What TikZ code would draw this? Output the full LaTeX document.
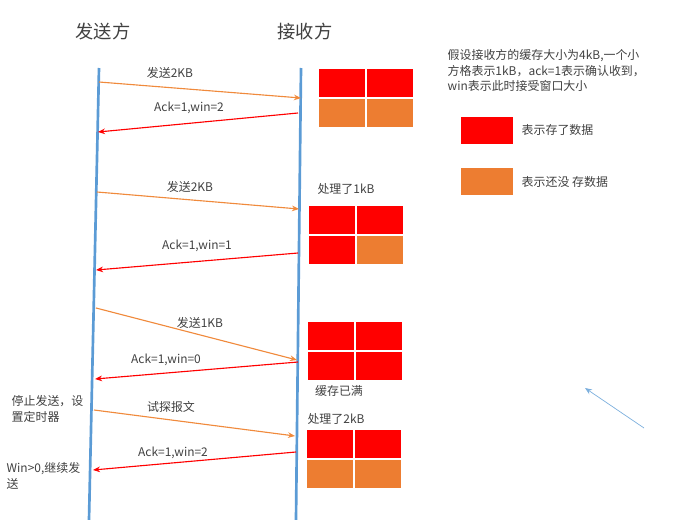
\documentclass[tikz,border=0pt]{standalone}
\usepackage{fontspec}
\setmainfont{Noto Sans CJK SC}
\usetikzlibrary{arrows.meta}
\definecolor{lifeblue}{HTML}{5B9BD5}
\definecolor{cellred}{HTML}{FF0000}
\definecolor{cellorange}{HTML}{ED7D31}
\definecolor{sendorange}{HTML}{F08A3C}
\definecolor{txtgray}{HTML}{404040}
\begin{document}
\begin{tikzpicture}[x=0.025cm,y=-0.025cm,
	life/.style={draw=lifeblue,line width=1.9pt},
	sendmsg/.style={draw=sendorange,line width=0.8pt,-{Stealth[length=5pt,width=4pt]}},
	ackmsg/.style={draw=cellred,line width=0.8pt,-{Stealth[length=5pt,width=4pt]}},
	lbl/.style={text=txtgray,font=\fontsize{8.5}{11}\selectfont,inner sep=1pt},
	title/.style={text=txtgray,font=\fontsize{13}{15}\selectfont},
	cell/.style={draw=white,line width=0.8pt}]
	\useasboundingbox (0,0) rectangle (687,520);
	% titles
	\node[title] (sender) at (103,32) {发送方};
	\node[title] (receiver) at (305,32) {接收方};
	% lifelines
	\coordinate (stop) at (99,68);
	\coordinate (sbot) at (89,520);
	\coordinate (rtop) at (301,68);
	\coordinate (rbot) at (296,520);
	\draw[life] (stop) -- (sbot);
	\draw[life] (rtop) -- (rbot);
	% end points on the lifelines
	\coordinate (s1) at (99,82);   \coordinate (r1) at (301,98);
	\coordinate (r2) at (298,113); \coordinate (s2) at (98,132);
	\coordinate (s3) at (97,192);  \coordinate (r3) at (299,209);
	\coordinate (r4) at (298,253); \coordinate (s4) at (96,270);
	\coordinate (s5) at (96,308);  \coordinate (r5) at (297,360);
	\coordinate (r6) at (298,362); \coordinate (s6) at (95,379);
	\coordinate (s7) at (94,410);  \coordinate (r7) at (295,436);
	\coordinate (r8) at (296,452); \coordinate (s8) at (93,470);
	% messages
	\draw[sendmsg] (s1) -- (r1);
	\draw[ackmsg] (r2) -- (s2);
	\draw[sendmsg] (s3) -- (r3);
	\draw[ackmsg] (r4) -- (s4);
	\draw[sendmsg] (s5) -- (r5);
	\draw[ackmsg] (r6) -- (s6);
	\draw[sendmsg] (s7) -- (r7);
	\draw[ackmsg] (r8) -- (s8);
	\node[lbl] (m1) at (170,73) {发送2KB};
	\node[lbl] (m2) at (189,108) {Ack=1,win=2};
	\node[lbl] (m3) at (190,187) {发送2KB};
	\node[lbl] (m4) at (197,246) {Ack=1,win=1};
	\node[lbl] (m5) at (200,323) {发送1KB};
	\node[lbl] (m6) at (166,360) {Ack=1,win=0};
	\node[lbl] (m7) at (171,407) {试探报文};
	\node[lbl] (m8) at (173,453) {Ack=1,win=2};
	% receive buffers
	\foreach \x/\y/\ca/\cb/\cc/\cd in {318/68/cellred/cellred/cellorange/cellorange,
		308/205/cellred/cellred/cellred/cellorange,
		307/321/cellred/cellred/cellred/cellred,
		306/429/cellred/cellred/cellorange/cellorange}{
		\filldraw[cell,fill=\ca] (\x,\y) rectangle +(48,30);
		\filldraw[cell,fill=\cb] (\x+48,\y) rectangle +(48,30);
		\filldraw[cell,fill=\cc] (\x,\y+30) rectangle +(48,30);
		\filldraw[cell,fill=\cd] (\x+48,\y+30) rectangle +(48,30);
	}
	\node[lbl] (done1) at (346,189) {处理了1kB};
	\node[lbl] (full) at (339,391) {缓存已满};
	\node[lbl] (done2) at (336,419) {处理了2kB};
	% sender notes
	\node[lbl,anchor=north west,align=left] (stopnote) at (10,394) {停止发送，设\\置定时器};
	\node[lbl,anchor=north west,align=left] (gonote) at (5,461) {Win>0,继续发\\送};
	% legend
	\node[lbl,anchor=north west,align=left] (legend) at (446,48) {假设接收方的缓存大小为4kB,一个小\\方格表示1kB，ack=1表示确认收到，\\win表示此时接受窗口大小};
	\fill[cellred] (461,117) rectangle (513,144);
	\node[lbl,anchor=west] (keyred) at (520,130) {表示存了数据};
	\fill[cellorange] (461,168) rectangle (513,195);
	\node[lbl,anchor=west] (keyorange) at (520,182) {表示还没 存数据};
	% stray pointer
	\coordinate (ptail) at (644,428);
	\coordinate (phead) at (585,388);
	\draw[draw=lifeblue!80,line width=0.5pt,-{Stealth[length=5pt,width=4pt]}] (ptail) -- (phead);
\end{tikzpicture}
\end{document}
